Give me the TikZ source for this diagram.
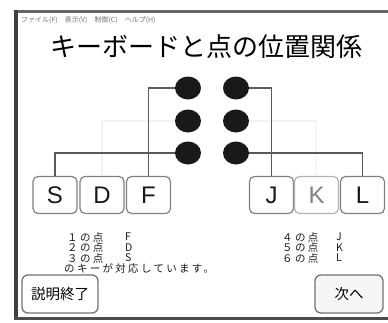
\documentclass[tikz,border=0pt]{standalone}
\usepackage{fontspec}
\setmainfont{Liberation Sans}
\newfontfamily\jp{Noto Sans CJK JP}
\newfontfamily\jpsp[LetterSpace=22]{Noto Sans CJK JP}
\usetikzlibrary{shapes.geometric}
\begin{document}
\begin{tikzpicture}[x=1pt,y=-1pt,
  conn/.style={draw=black!65, line width=1.4pt},
  ghost/.style={draw=black!5, line width=1.2pt},
  brailledot/.style={ellipse, fill=black!90, minimum width=26pt, minimum height=23pt, inner sep=0pt},
  keybox/.style={draw=black!50, line width=1.2pt, rounded corners=5pt, minimum width=44pt, minimum height=37pt, fill=white, font=\fontsize{24}{24}\selectfont, text=black!90, inner sep=0pt},
  btn/.style={draw=black!55, line width=1.3pt, rounded corners=6pt, minimum height=38pt, font=\jp\fontsize{14.5}{14.5}\selectfont, inner sep=0pt},
  lbl/.style={anchor=west, inner sep=0pt, font=\jpsp\fontsize{10.5}{11}\selectfont, text=black!90},
  klbl/.style={anchor=west, inner sep=0pt, font=\jp\fontsize{10.5}{11}\selectfont, text=black!90}
]
\useasboundingbox (0,0) rectangle (388,322);
\fill[white] (0,0) rectangle (388,322);
% window frame
\draw[black!60, line width=3pt] (14,11.5) -- (388,11.5);
\draw[black!75, line width=4pt] (16,10) -- (16,320);
\draw[black!70, line width=3pt] (14,318.5) -- (388,318.5);
% menu and title
\node[anchor=west, text=black!55, font=\jp\fontsize{7}{7}\selectfont, inner sep=0pt] (menu) at (21,20) {ファイル(F)\quad 表示(V)\quad 制御(C)\quad ヘルプ(H)};
\node[font=\jp\fontsize{26}{27}\selectfont, inner sep=0pt] (title) at (206,47) {キーボードと点の位置関係};
% dots
\node[brailledot] (d1) at (188,88) {};
\node[brailledot] (d2) at (188,121) {};
\node[brailledot] (d3) at (188,153) {};
\node[brailledot] (d4) at (236,88) {};
\node[brailledot] (d5) at (236,121) {};
\node[brailledot] (d6) at (236,153) {};
% keys
\node[keybox] (kS) at (55,195) {S};
\node[keybox] (kD) at (102,195) {D};
\node[keybox] (kF) at (148.5,195) {F};
\node[keybox] (kJ) at (271.5,195) {J};
\node[keybox, draw=black!30, text=black!50] (kK) at (316.5,195) {K};
\node[keybox] (kL) at (362.5,195) {L};
% connectors
\draw[ghost] (d2.west) -| (kD.north);
\draw[ghost] (d5.east) -| (kK.north);
\draw[conn] (d1.west) -| (kF.north);
\draw[conn] (d3.west) -| (kS.north);
\draw[conn] (d4.east) -| (kJ.north);
\draw[conn] (d6.east) -| (kL.north);
% text block
\node[lbl] (t1) at (67,237) {１の点};
\node[klbl] (t1k) at (125,237) {F};
\node[lbl] (t2) at (67,247.5) {２の点};
\node[klbl] (t2k) at (125,247.5) {D};
\node[lbl] (t3) at (67,258) {３の点};
\node[klbl] (t3k) at (125,258) {S};
\node[lbl] (t0) at (64,268.5) {のキーが対応しています。};
\node[lbl] (t4) at (282,237) {４の点};
\node[klbl] (t4k) at (336,237) {J};
\node[lbl] (t5) at (282,247.5) {５の点};
\node[klbl] (t5k) at (336,247.5) {K};
\node[lbl] (t6) at (282,258) {６の点};
\node[klbl] (t6k) at (336,258) {L};
% buttons
\node[btn, minimum width=76pt, fill=white] (bEnd) at (60,294) {説明終了};
\node[btn, minimum width=68pt, fill=black!4] (bNext) at (349,294) {次へ};
\end{tikzpicture}
\end{document}
